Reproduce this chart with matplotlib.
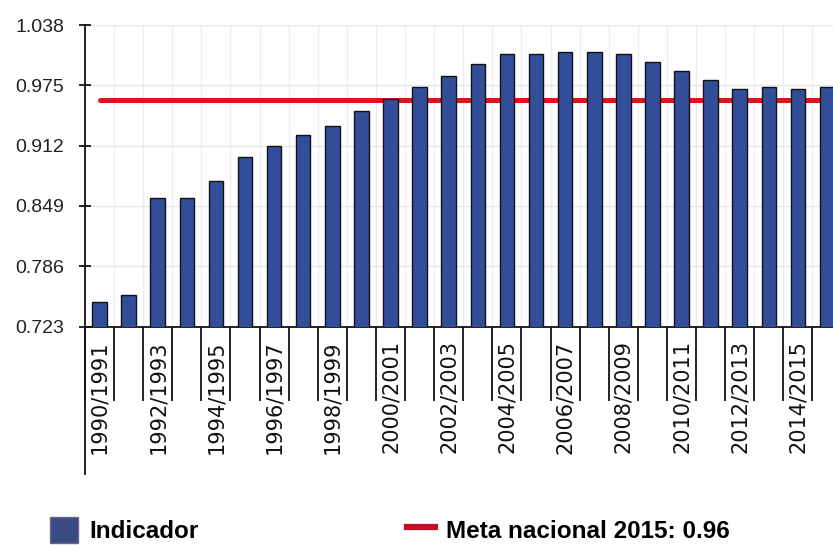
import matplotlib
matplotlib.use("Agg")
import matplotlib.pyplot as plt
import matplotlib.transforms as mtransforms
from matplotlib.lines import Line2D
from matplotlib.patches import Patch

# ---- data ----
categories = [f"{y}/{y+1}" for y in range(1990, 2016)]
indicador = [0.749, 0.756, 0.857, 0.857, 0.875, 0.900, 0.912, 0.923, 0.932, 0.948,
             0.961, 0.973, 0.985, 0.997, 1.008, 1.008, 1.010, 1.010, 1.008, 0.999,
             0.990, 0.981, 0.971, 0.973, 0.971, 0.973]
meta = 0.96
yticks = [0.723, 0.786, 0.849, 0.912, 0.975, 1.038]
ytick_labels = ["0.723", "0.786", "0.849", "0.912", "0.975", "1.038"]
label_bar = "Indicador"
label_line = "Meta nacional 2015: 0.96"

n = len(categories)
xs = list(range(n))

fig = plt.figure(figsize=(8.33, 5.45), dpi=100)
ax = fig.add_axes([0.102, 0.4009, 0.9083, 0.5532])

# red target line (behind bars)
ax.plot(xs, [meta] * n, color="#e0121c", lw=3.6, solid_capstyle="round", zorder=2)

ax.bar(xs, indicador, width=0.5, color="#324e98", edgecolor="#111111",
       linewidth=1.0, zorder=3)

ax.set_xlim(-0.5, n - 0.5)
ax.set_ylim(yticks[0], yticks[-1])

# y axis
ax.set_yticks(yticks)
ax.set_yticklabels(ytick_labels, fontsize=14, family=["Liberation Sans", "DejaVu Sans"],
                   color="#222222")
ax.tick_params(axis="y", direction="inout", length=8, width=1.2, pad=11)

# x axis: labels every other category, long boundary ticks
ax.set_xticks(xs)
ax.set_xticklabels([c if i % 2 == 0 else "" for i, c in enumerate(categories)],
                   rotation=90, fontsize=15, family="DejaVu Sans", color="#111111")
shift = mtransforms.ScaledTranslation(3 / 100, 0, fig.dpi_scale_trans)
for lbl in ax.get_xticklabels():
    lbl.set_horizontalalignment("center")
    lbl.set_transform(lbl.get_transform() + shift)
ax.tick_params(axis="x", which="major", length=0, pad=10)
ax.set_xticks([x - 0.5 for x in range(n + 1)], minor=True)
ax.tick_params(axis="x", which="minor", length=53, width=1.3, color="#111111")

# grid
ax.grid(True, axis="y", color="#e6e6e6", lw=1, zorder=0)
ax.grid(True, axis="x", which="minor", color="#eeeeee", lw=1, zorder=0)
ax.set_axisbelow(True)

for s in ["top", "right"]:
    ax.spines[s].set_visible(False)
for s in ["left", "bottom"]:
    ax.spines[s].set_linewidth(1.3)
    ax.spines[s].set_color("#111111")

# extend left axis line below the plot
ax.add_line(Line2D([0, 0], [0, -0.49], transform=ax.transAxes, color="#111111",
                   lw=1.3, clip_on=False))

# legend at bottom
handles = [Patch(facecolor="#3a4a82", edgecolor="#6a6a8a"),
           Line2D([0], [0], color="#c0102a", lw=4.5)]
leg = fig.legend(handles, [label_bar, label_line], loc="center left",
                 bbox_to_anchor=(50 / 833, 1 - 530 / 545), ncol=2, frameon=False,
                 borderpad=0, borderaxespad=0,
                 columnspacing=8.6, handlelength=1.15, handleheight=1.3,
                 handletextpad=0.45,
                 prop={"family": ["Liberation Sans", "DejaVu Sans"],
                       "weight": "bold", "size": 17.5})

fig.savefig("out.png", dpi=100)
